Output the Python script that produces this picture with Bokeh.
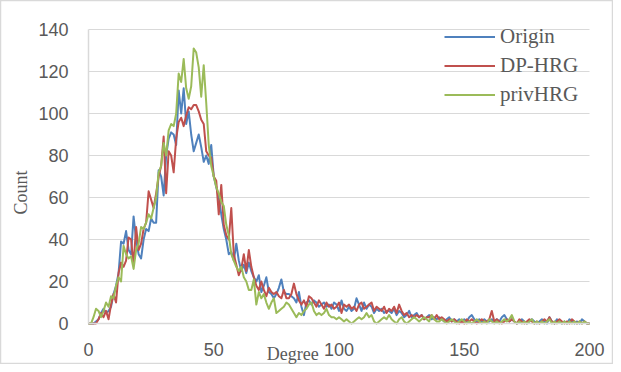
import math
from bokeh.plotting import figure
from bokeh.models import Range1d, FixedTicker, Legend, LegendItem, Label, Grid
from bokeh.embed import file_html
from bokeh.resources import INLINE

degree = list(range(0, 201))

origin = [
    0, 0, 0, 1, 2, 5, 7, 5, 6, 8,
    14, 18, 24, 39, 38, 44, 35, 33, 51, 40,
    33, 31, 40, 45, 44, 50, 48, 48, 73, 70,
    61, 80, 88, 91, 90, 85, 111, 100, 112, 95,
    101, 90, 82, 86, 90, 84, 77, 80, 76, 85,
    70, 65, 60, 52, 45, 40, 33, 34, 30, 38,
    30, 25, 28, 24, 29, 25, 22, 20, 23, 15,
    18, 22, 15, 14, 12, 14, 17, 21, 15, 14,
    14, 13, 12, 10, 15, 8, 4, 10, 11, 9,
    11, 10, 8, 9, 10, 8, 9, 7, 10, 9,
    6, 11, 7, 6, 8, 6, 7, 12, 9, 6,
    10, 7, 9, 8, 5, 7, 6, 7, 5, 6,
    6, 5, 7, 4, 6, 5, 3, 4, 6, 3,
    4, 5, 3, 4, 2, 3, 4, 2, 3, 2,
    3, 2, 1, 2, 3, 1, 2, 1, 2, 1,
    2, 1, 3, 4, 2, 1, 2, 1, 2, 1,
    1, 2, 1, 2, 1, 3, 4, 2, 1, 2,
    1, 0, 1, 2, 1, 0, 1, 2, 1, 0,
    1, 2, 1, 0, 3, 1, 0, 2, 1, 0,
    1, 0, 2, 1, 0, 1, 0, 2, 1, 0,
    0,
]

dp_hrg = [
    0, 0, 0, 0, 2, 5, 3, 6, 2, 9,
    14, 10, 24, 29, 27, 30, 41, 40, 28, 46,
    35, 38, 45, 48, 63, 59, 55, 62, 70, 75,
    89, 62, 82, 80, 72, 88, 96, 98, 94, 99,
    103, 102, 104, 104, 101, 97, 95, 82, 80, 79,
    70, 68, 52, 66, 47, 42, 40, 55, 33, 28,
    23, 26, 33, 25, 35, 27, 22, 18, 16, 20,
    16, 13, 17, 15, 14, 15, 13, 12, 16, 12,
    12, 14, 19, 14, 11, 9, 11, 8, 13, 12,
    10, 8, 11, 9, 7, 10, 8, 9, 7, 8,
    10, 5, 9, 8, 9, 7, 8, 6, 9, 10,
    7, 8, 9, 10, 6, 8, 7, 6, 8, 5,
    7, 6, 8, 5, 9, 6, 4, 5, 3, 4,
    3, 4, 3, 4, 2, 3, 3, 4, 2, 4,
    2, 3, 2, 1, 2, 1, 2, 1, 0, 1,
    0, 2, 1, 2, 1, 0, 1, 2, 1, 1,
    2, 6, 1, 2, 1, 0, 1, 2, 1, 2,
    1, 0, 2, 1, 0, 1, 2, 1, 0, 1,
    0, 1, 2, 1, 3, 1, 0, 1, 2, 1,
    0, 1, 0, 2, 1, 0, 1, 0, 1, 0,
    0,
]

priv_hrg = [
    0, 0, 3, 7, 6, 3, 6, 10, 8, 13,
    12, 18, 22, 20, 37, 33, 31, 32, 26, 35,
    38, 46, 45, 48, 52, 50, 55, 60, 72, 75,
    86, 80, 92, 95, 94, 100, 119, 115, 126, 112,
    107, 113, 131, 129, 122, 108, 123, 105, 85, 75,
    70, 65, 62, 58, 56, 47, 42, 33, 30, 27,
    25, 27, 22, 20, 16, 16, 21, 9, 15, 12,
    14, 10, 7, 10, 12, 5, 6, 7, 8, 10,
    9, 7, 5, 3, 5, 4, 6, 7, 9, 10,
    6, 4, 5, 4, 5, 7, 4, 3, 3, 2,
    3, 2, 1, 2, 1, 0, 1, 2, 3, 2,
    3, 5, 3, 4, 1, 0, 1, 2, 3, 2,
    4, 2, 1, 0, 2, 3, 1, 0, 1, 2,
    3, 2, 1, 2, 3, 2, 1, 4, 2, 1,
    1, 2, 1, 0, 1, 2, 1, 0, 1, 2,
    1, 0, 1, 0, 1, 2, 1, 0, 1, 0,
    2, 1, 0, 1, 0, 1, 2, 1, 2, 4,
    1, 0, 1, 0, 1, 0, 1, 2, 0, 1,
    0, 1, 0, 1, 2, 0, 1, 0, 1, 0,
    1, 0, 1, 0, 1, 0, 1, 0, 1, 0,
    0,
]

series_names = ["Origin", "DP-HRG", "privHRG"]
series_colors = ["#4F81BD", "#C0504D", "#9BBB59"]
x_ticks = [0, 50, 100, 150, 200]
y_ticks = [0, 20, 40, 60, 80, 100, 120, 140]

TXT = "#595959"

# The frame fills the whole canvas; both axes are pinned at 0 inside it so that
# the axis titles (labels) are not clipped.
p = figure(width=613, height=364, output_backend="svg", toolbar_location=None,
           x_range=Range1d(-35.13, 209.58), y_range=Range1d(-19.52, 153.81),
           min_border_left=0, min_border_right=0, min_border_top=0, min_border_bottom=0)
p.background_fill_color = "white"
p.border_fill_color = "white"
p.outline_line_color = "#D9D9D9"
p.outline_line_width = 1.5

xa = p.xaxis[0]
ya = p.yaxis[0]
for ax in (xa, ya):
    ax.major_tick_line_color = None
    ax.minor_tick_line_color = None
    ax.major_tick_out = 0
    ax.major_tick_in = 0
    ax.axis_line_color = "#D9D9D9"
    ax.axis_line_width = 1.5
    ax.major_label_text_color = TXT
    ax.major_label_text_font = "Liberation Sans"
    ax.major_label_text_font_size = "18px"
    ax.fixed_location = 0
xa.ticker = FixedTicker(ticks=x_ticks)
ya.ticker = FixedTicker(ticks=y_ticks)
xa.bounds = (0, 200)
ya.bounds = (0, 140)
xa.major_label_standoff = 19
ya.major_label_standoff = 20

p.xgrid.grid_line_color = None
yg = p.ygrid[0]
yg.grid_line_color = "#D9D9D9"
yg.grid_line_width = 1.2
yg.ticker = FixedTicker(ticks=y_ticks)
yg.bounds = (0, 140)
if "cross_bounds" in Grid.properties():
    yg.cross_bounds = (0, 200)

# axis titles
p.add_layout(Label(x=-27.1, y=62.4, text="Count", angle=math.pi / 2,
                   text_align="center", text_baseline="middle",
                   text_font="Liberation Serif", text_font_size="18px", text_color=TXT))
p.add_layout(Label(x=81.5, y=-14.6, text="Degree", text_align="center", text_baseline="middle",
                   text_font="Liberation Serif", text_font_size="18px", text_color=TXT))

renderers = []
for ys, c in zip([origin, dp_hrg, priv_hrg], series_colors):
    r = p.line(degree, ys, line_color=c, line_width=2, line_join="round")
    renderers.append(r)

legend = Legend(items=[LegendItem(label=n, renderers=[r]) for n, r in zip(series_names, renderers)],
                location=(444, 255), background_fill_alpha=0, border_line_color=None,
                padding=0, margin=0, spacing=0, glyph_width=51, glyph_height=29,
                label_height=29, label_standoff=5,
                label_text_font="Liberation Serif", label_text_font_size="21px",
                label_text_color=TXT)
p.add_layout(legend)

open("out.html", "w").write(file_html(p, INLINE))
